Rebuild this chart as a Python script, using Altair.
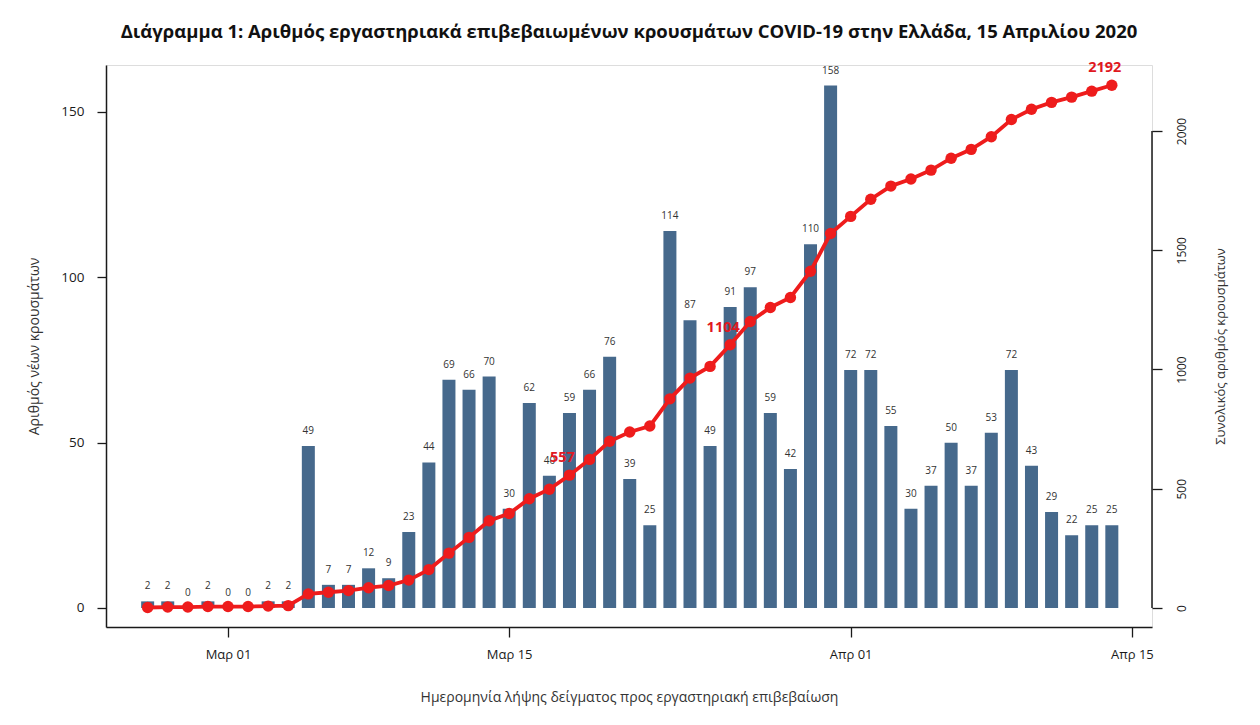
import altair as alt
import pandas as pd

# ---- data ----
dates = [d.strftime("%Y-%m-%d") for d in pd.date_range("2020-02-26", "2020-04-14")]
new_cases = [2, 2, 0, 2, 0, 0, 2, 2, 49, 7, 7, 12, 9, 23, 44, 69, 66, 70, 30, 62,
             40, 59, 66, 76, 39, 25, 114, 87, 49, 91, 97, 59, 42, 110, 158, 72, 72, 55,
             30, 37, 50, 37, 53, 72, 43, 29, 22, 25, 25]
total_cases = [2, 4, 4, 6, 6, 6, 8, 10, 59, 66, 73, 85, 94, 117, 161, 230, 296, 366,
               396, 458, 498, 557, 623, 699, 738, 763, 877, 964, 1013, 1104, 1201, 1260,
               1302, 1412, 1570, 1642, 1714, 1769, 1799, 1836, 1886, 1923, 1976, 2048,
               2091, 2120, 2142, 2167, 2192]
labelled_totals = [557, 1104, 2192]
left_ticks = [0, 50, 100, 150]
right_ticks = [0, 500, 1000, 1500, 2000]

title_text = "Διάγραμμα 1: Αριθμός εργαστηριακά επιβεβαιωμένων κρουσμάτων COVID-19 στην Ελλάδα, 15 Απριλίου 2020"
x_title = "Ημερομηνία λήψης δείγματος προς εργαστηριακή επιβεβαίωση"
y_left_title = "Αριθμός νέων κρουσμάτων"
y_right_title = "Συνολικός αριθμός κρουσμάτων"

df = pd.DataFrame({"date": dates, "new": new_cases, "total": total_cases})
df["tlabel"] = [str(t) if t in labelled_totals else "" for t in total_cases]
axis_df = pd.DataFrame({"total": [right_ticks[0]], "total2": [right_ticks[-1]]})

W, H = 1046, 562
FONT = "Open Sans"
BAR = "#46698c"
RED = "#ee1c1c"
INK = "#1a1a1a"

x_scale = alt.Scale(
    type="utc",
    padding=0,
    domain=[alt.DateTime(year=2020, month=2, date=23, hours=22, minutes=15, utc=True),
            alt.DateTime(year=2020, month=4, date=16, utc=True)],
)
x_axis = alt.Axis(
    values=[alt.DateTime(year=2020, month=3, date=1, utc=True),
            alt.DateTime(year=2020, month=3, date=15, utc=True),
            alt.DateTime(year=2020, month=4, date=1, utc=True),
            alt.DateTime(year=2020, month=4, date=15, utc=True)],
    labelExpr="(utcmonth(datum.value) == 2 ? 'Μαρ ' : 'Απρ ') + utcFormat(datum.value, '%d')",
    title=x_title, grid=False, tickSize=10, labelPadding=11, titlePadding=29,
    labelFontSize=13, titleFontSize=14, labelFont=FONT, titleFont=FONT,
    titleFontWeight="normal", labelColor=INK, titleColor="#333",
    domainColor=INK, tickColor=INK, domainWidth=1.5, tickWidth=1.3,
)
x_enc = alt.X("date:T", scale=x_scale, axis=x_axis)

y_left = alt.Y(
    "new:Q",
    scale=alt.Scale(domain=[-5.75, 164.2], nice=False, zero=False),
    axis=alt.Axis(orient="left", values=left_ticks, title=y_left_title, grid=False,
                  tickSize=9, labelPadding=13, titlePadding=19, labelFontSize=13.5,
                  titleFontSize=14, labelFont=FONT, titleFont=FONT,
                  titleFontWeight="normal", labelColor=INK, titleColor="#333",
                  domainColor=INK, tickColor=INK, domainWidth=1.5, tickWidth=1.3),
)
right_axis = alt.Axis(orient="right", values=right_ticks, format="d", title=y_right_title,
                      grid=False, domain=False, tickSize=10, labelPadding=14, titlePadding=40,
                      labelAngle=270, labelAlign="center", labelBaseline="top",
                      titleAngle=270, labelFontSize=12, titleFontSize=13,
                      labelFont=FONT, titleFont=FONT, titleFontWeight="normal",
                      labelColor=INK, titleColor="#333", tickColor=INK, tickWidth=1.3)
y_right = alt.Y("total:Q", scale=alt.Scale(domain=[-79.7, 2276.7], nice=False, zero=False),
                axis=right_axis)

base = alt.Chart(df)
bars = base.mark_bar(size=13, color=BAR).encode(x=x_enc, y=y_left, y2=alt.datum(0))
bar_text = base.mark_text(baseline="middle", dy=-15, fontSize=10, font=FONT, color="#333").encode(
    x=x_enc, y=y_left, text="new:Q")

rule = alt.Chart(axis_df).mark_rule(color=INK, strokeWidth=1.5).encode(
    x=alt.value(W), y=y_right, y2="total2:Q")
line = base.mark_line(color=RED, strokeWidth=3.8).encode(x=x_enc, y=y_right)
points = base.mark_circle(size=130, color=RED, opacity=1).encode(x=x_enc, y=y_right)
cum_text = base.transform_filter("datum.tlabel != ''").mark_text(
    baseline="middle", dx=-7, dy=-17, fontSize=14.5, fontWeight="bold", font=FONT,
    color="#e0191f").encode(x=x_enc, y=y_right, text="tlabel:N")

chart = alt.layer(
    alt.layer(bars, bar_text),
    alt.layer(rule, line, points, cum_text),
).resolve_scale(y="independent").properties(
    width=W, height=H,
    title=alt.Title(title_text, fontSize=18.5, font=FONT, fontWeight="bold", color="#111",
                    anchor="middle", offset=19),
    padding={"left": 98, "top": 57, "right": 100, "bottom": 90},
    autosize=alt.AutoSizeParams(type="none"),
).configure_view(stroke=None).configure(background="white")

chart.save("out.html", embed_options={"renderer": "svg", "actions": False})
